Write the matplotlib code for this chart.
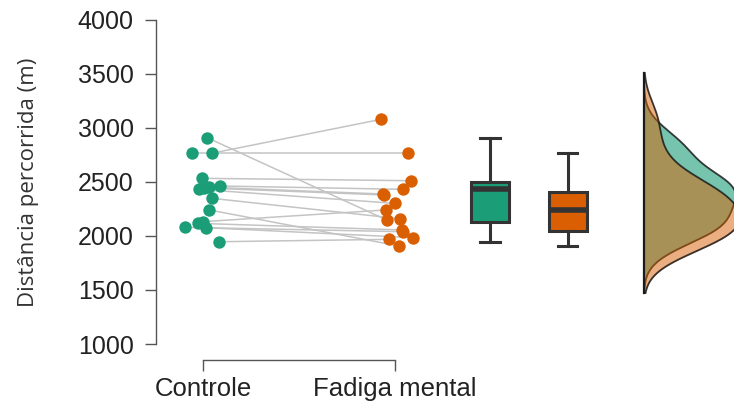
import matplotlib
matplotlib.use('Agg')
import matplotlib.pyplot as plt
import numpy as np

plt.rcParams['font.family'] = ['Liberation Sans', 'DejaVu Sans']

# paired values, same order in both lists (one participant per index)
controle = [2910, 2766, 2766, 2534, 2463, 2451, 2445, 2432, 2349, 2241, 2133, 2117, 2080, 2077, 1947]
fadiga = [2148, 3080, 2766, 2512, 2432, 2389, 2380, 2302, 2160, 1907, 2241, 2056, 2040, 1985, 1969]

# horizontal jitter of the dots
jit_controle = [0.022, 0.045, -0.059, -0.004, 0.089, 0.033, 0.005, -0.019, 0.045, 0.033, 0.002, -0.024, -0.094, 0.016, 0.085]
jit_fadiga = [-0.043, -0.073, 0.069, 0.083, 0.040, -0.064, -0.057, 0.0, 0.026, 0.022, -0.048, 0.035, 0.042, 0.092, -0.030]

grupos = ['Controle', 'Fadiga mental']
cores = ['#1b9e77', '#d95f02']

fig = plt.figure(figsize=(7.34, 4.03), dpi=100)
ax = fig.add_axes([0.2125, 0.1464, 0.7875, 0.804])

xc = 0 + np.array(jit_controle)
xf = 1 + np.array(jit_fadiga)

# lines between pairs
for a, b, ya, yb in zip(xc, xf, controle, fadiga):
    ax.plot([a, b], [ya, yb], color='#c4c4c4', lw=1.1, zorder=1)

ax.scatter(xc, controle, s=80, color=cores[0], zorder=3, linewidths=0)
ax.scatter(xf, fadiga, s=80, color=cores[1], zorder=3, linewidths=0)

# boxplots
bp = ax.boxplot([controle, fadiga], positions=[1.495, 1.9], widths=0.2,
                showfliers=False, patch_artist=True, manage_ticks=False,
                medianprops=dict(color='#333333', lw=4),
                whiskerprops=dict(color='#333333', lw=2.2),
                capprops=dict(color='#333333', lw=2.2),
                boxprops=dict(edgecolor='#333333', lw=2.2))
for patch, c in zip(bp['boxes'], cores):
    patch.set_facecolor(c)

# half densities
grid = np.linspace(1472, 3509, 400)
def kde(vals):
    vals = np.asarray(vals, float)
    bw = vals.std(ddof=1) * len(vals) ** (-1 / 5)
    z = (grid[:, None] - vals[None, :]) / bw
    return np.exp(-0.5 * z ** 2).sum(axis=1) / (len(vals) * bw * np.sqrt(2 * np.pi))

dens = [kde(controle), kde(fadiga)]
base = 2.297
scale = 0.5 / max(d.max() for d in dens)
alphas = [0.6, 0.5]
for d, c, al in zip(dens, cores, alphas):
    ax.fill_betweenx(grid, base, base + d * scale, color=c, alpha=al, lw=0, zorder=2)
    ax.plot(base + d * scale, grid, color='#1a1a1a', lw=1.3, alpha=0.85, zorder=2)
ax.plot([base, base], [grid[0], grid[-1]], color='#1a1a1a', lw=1.6, zorder=2)

ax.set_xlim(-0.245, 2.766)
ax.set_ylim(1000, 4000)
ax.set_yticks(np.arange(1000, 4001, 500))
ax.set_xticks([0, 1])
ax.set_xticklabels(grupos)
ax.tick_params(axis='y', labelsize=18, labelcolor='#222222', length=8, width=1, color='#555555', pad=8)
ax.tick_params(axis='x', labelsize=18.5, labelcolor='#222222', length=8, width=1, color='#555555', pad=4)
ax.set_ylabel('Distância percorrida (m)', fontsize=16, family='Open Sans', color='#333333', labelpad=28)

for s in ['top', 'right']:
    ax.spines[s].set_visible(False)
ax.spines['left'].set_bounds(1000, 4000)
ax.spines['bottom'].set_bounds(0, 1)
ax.spines['bottom'].set_position(('outward', 11.5))
for s in ['left', 'bottom']:
    ax.spines[s].set_color('#555555')
    ax.spines[s].set_linewidth(1)

fig.savefig('out.png', dpi=100)
